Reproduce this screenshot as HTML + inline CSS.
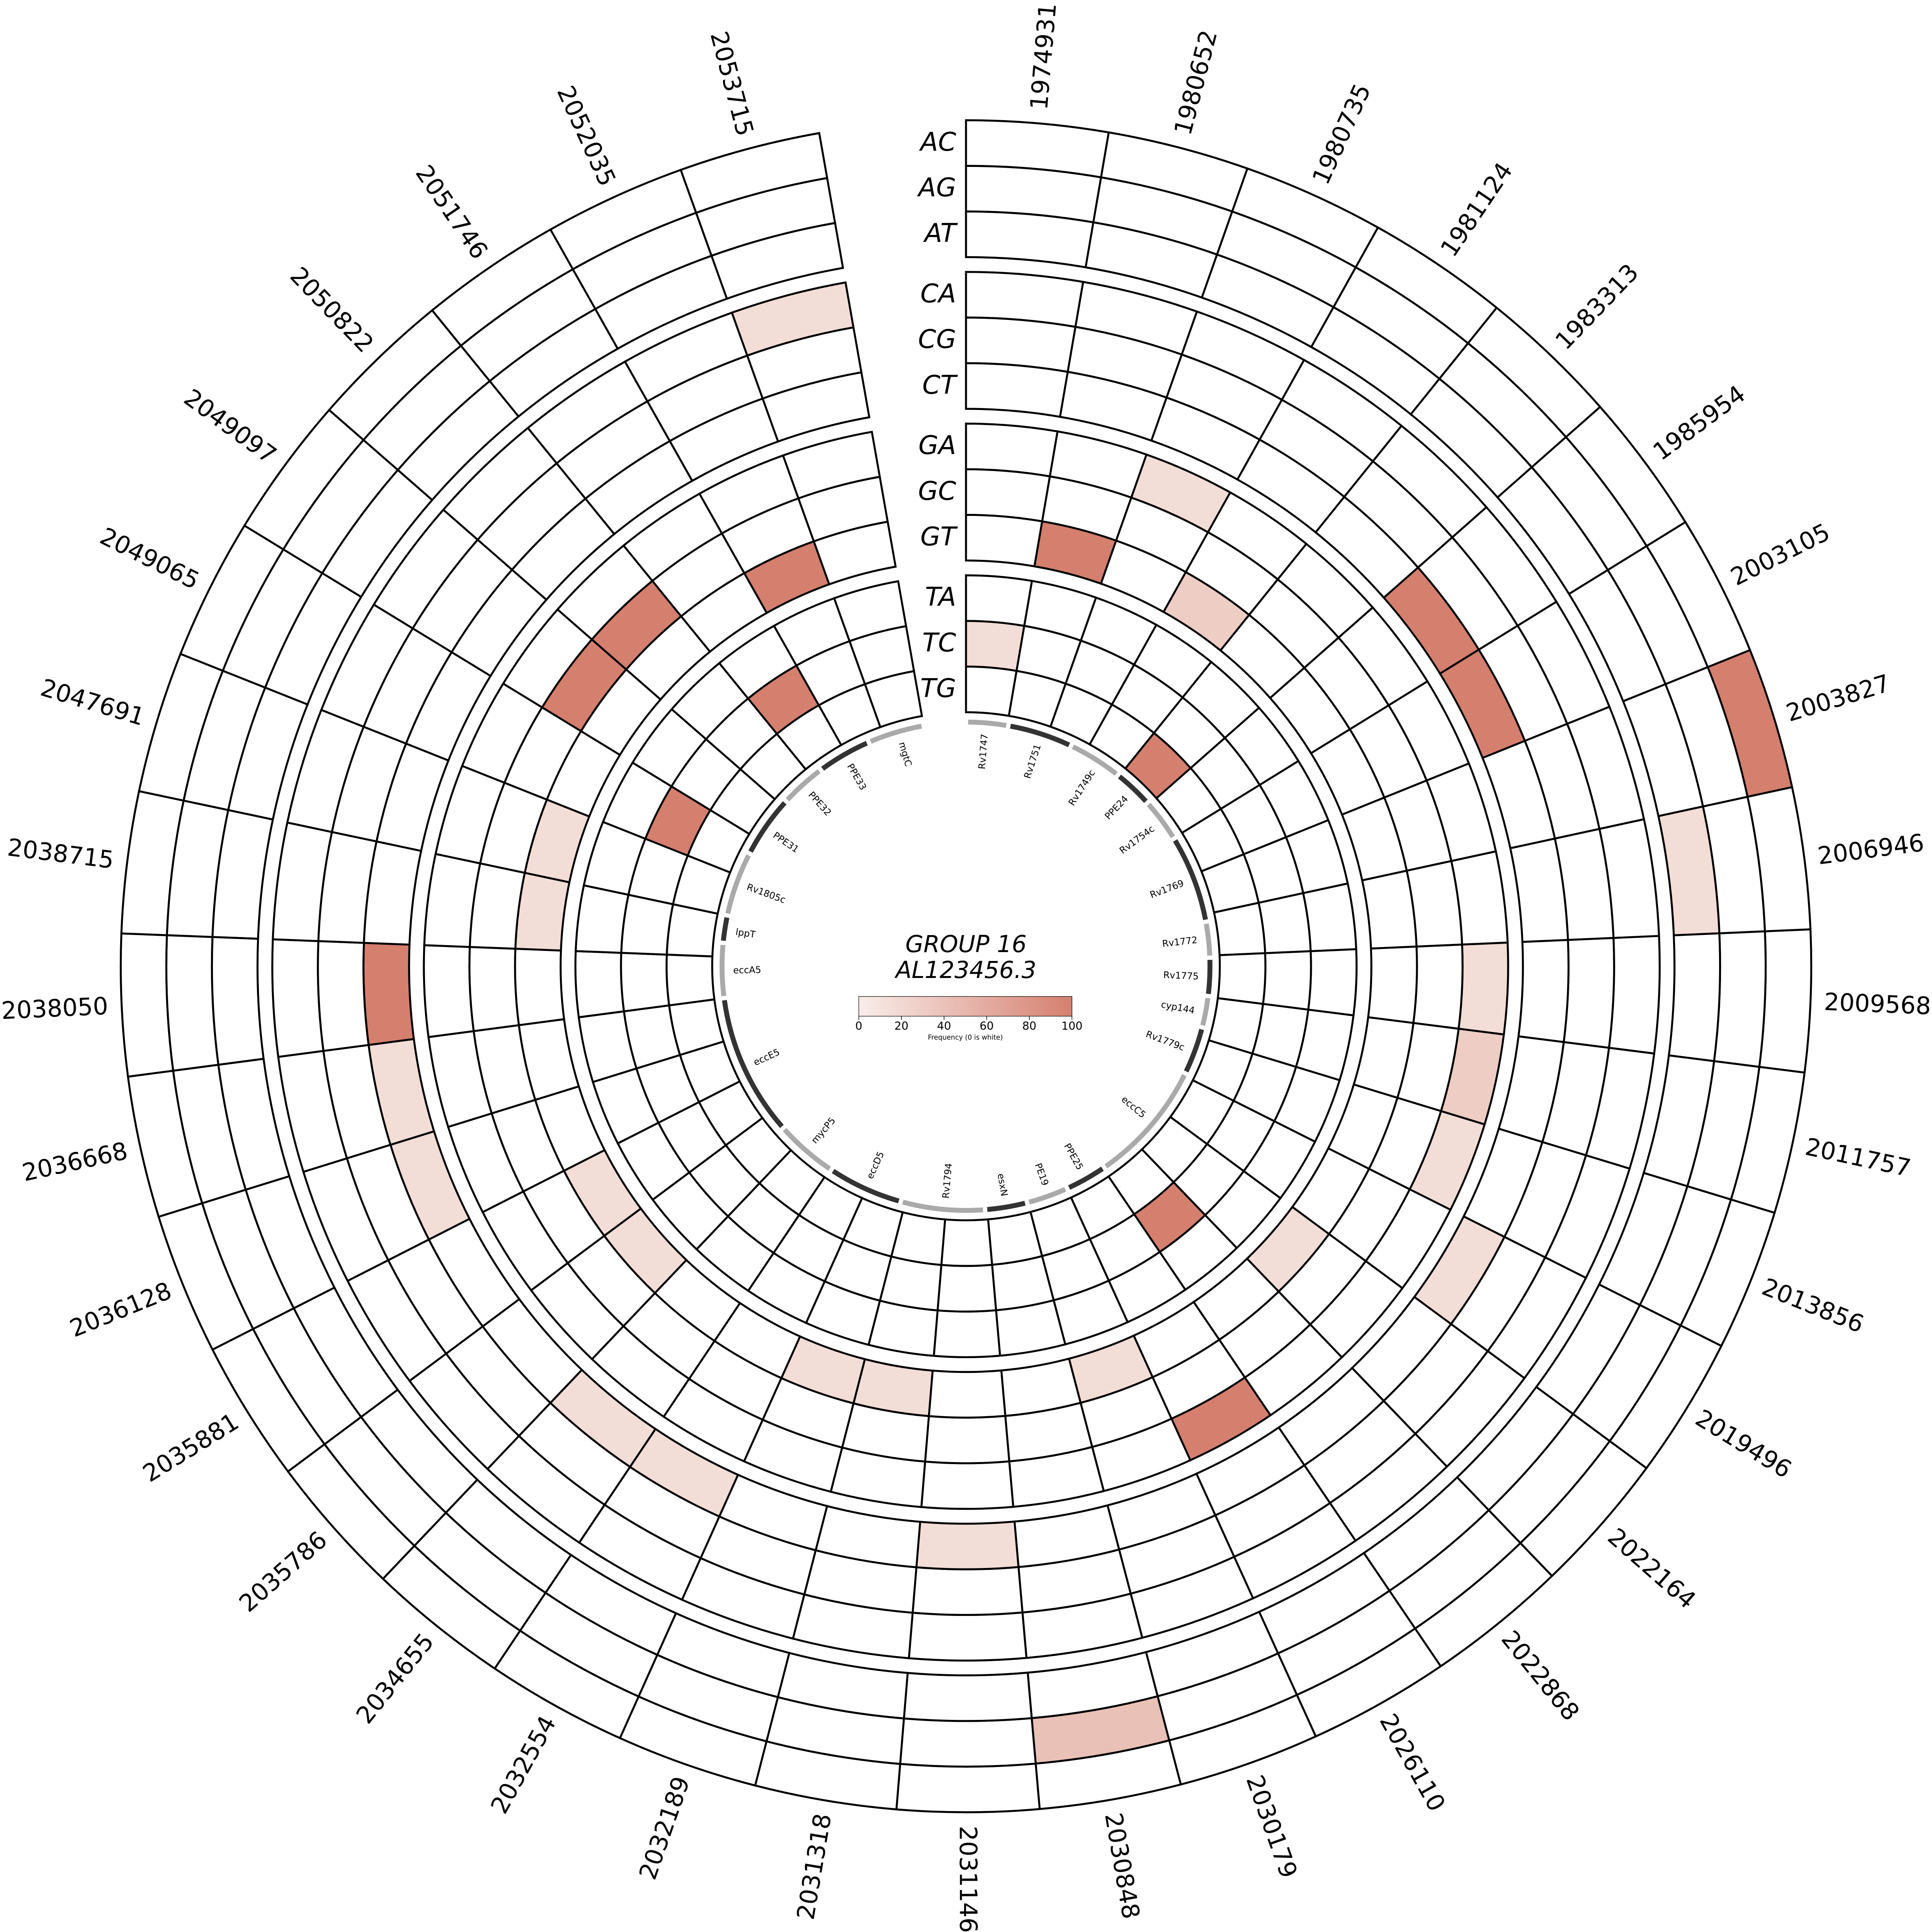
<!DOCTYPE html>
<html><head><meta charset="utf-8"><style>
html,body{margin:0;padding:0;background:#fff;overflow:hidden;width:100%;height:100%;}
svg{display:block;position:fixed;left:0;top:0;width:100vw;height:100vh;}
text{font-family:"DejaVu Sans","Liberation Sans",sans-serif;}
</style></head><body>
<svg id="s" xmlns="http://www.w3.org/2000/svg" viewBox="0 0 1568 1566.6" preserveAspectRatio="none">
<defs><linearGradient id="g" x1="0" x2="1" y1="0" y2="0"><stop offset="0" stop-color="#f9eeeb"/><stop offset="1" stop-color="#d57f6e"/></linearGradient></defs>
<rect width="1568" height="1567" fill="#fff"/>
<g id="cells"></g>
<g id="genes"></g>
<g font-size="19.5" fill="#000" dominant-baseline="central">
<text transform="translate(784,783.5) rotate(4.861) translate(0,-697) rotate(-90)">1974931</text>
<text transform="translate(784,783.5) rotate(14.583) translate(0,-697) rotate(-90)">1980652</text>
<text transform="translate(784,783.5) rotate(24.306) translate(0,-697) rotate(-90)">1980735</text>
<text transform="translate(784,783.5) rotate(34.028) translate(0,-697) rotate(-90)">1981124</text>
<text transform="translate(784,783.5) rotate(43.75) translate(0,-697) rotate(-90)">1983313</text>
<text transform="translate(784,783.5) rotate(53.472) translate(0,-697) rotate(-90)">1985954</text>
<text transform="translate(784,783.5) rotate(63.194) translate(0,-697) rotate(-90)">2003105</text>
<text transform="translate(784,783.5) rotate(72.917) translate(0,-697) rotate(-90)">2003827</text>
<text transform="translate(784,783.5) rotate(82.639) translate(0,-697) rotate(-90)">2006946</text>
<text transform="translate(784,783.5) rotate(92.361) translate(0,-697) rotate(-90)">2009568</text>
<text transform="translate(784,783.5) rotate(102.083) translate(0,-697) rotate(-90)">2011757</text>
<text transform="translate(784,783.5) rotate(111.806) translate(0,-697) rotate(-90)">2013856</text>
<text transform="translate(784,783.5) rotate(121.528) translate(0,-697) rotate(-90)">2019496</text>
<text transform="translate(784,783.5) rotate(131.25) translate(0,-697) rotate(-90)">2022164</text>
<text transform="translate(784,783.5) rotate(140.972) translate(0,-697) rotate(-90)">2022868</text>
<text transform="translate(784,783.5) rotate(150.694) translate(0,-697) rotate(-90)">2026110</text>
<text transform="translate(784,783.5) rotate(160.417) translate(0,-697) rotate(-90)">2030179</text>
<text transform="translate(784,783.5) rotate(170.139) translate(0,-697) rotate(-90)">2030848</text>
<text transform="translate(784,783.5) rotate(179.861) translate(0,-697) rotate(-90)">2031146</text>
<text text-anchor="end" transform="translate(784,783.5) rotate(189.583) translate(0,-697) rotate(90)">2031318</text>
<text text-anchor="end" transform="translate(784,783.5) rotate(199.306) translate(0,-697) rotate(90)">2032189</text>
<text text-anchor="end" transform="translate(784,783.5) rotate(209.028) translate(0,-697) rotate(90)">2032554</text>
<text text-anchor="end" transform="translate(784,783.5) rotate(218.75) translate(0,-697) rotate(90)">2034655</text>
<text text-anchor="end" transform="translate(784,783.5) rotate(228.472) translate(0,-697) rotate(90)">2035786</text>
<text text-anchor="end" transform="translate(784,783.5) rotate(238.194) translate(0,-697) rotate(90)">2035881</text>
<text text-anchor="end" transform="translate(784,783.5) rotate(247.917) translate(0,-697) rotate(90)">2036128</text>
<text text-anchor="end" transform="translate(784,783.5) rotate(257.639) translate(0,-697) rotate(90)">2036668</text>
<text text-anchor="end" transform="translate(784,783.5) rotate(267.361) translate(0,-697) rotate(90)">2038050</text>
<text text-anchor="end" transform="translate(784,783.5) rotate(277.083) translate(0,-697) rotate(90)">2038715</text>
<text text-anchor="end" transform="translate(784,783.5) rotate(286.806) translate(0,-697) rotate(90)">2047691</text>
<text text-anchor="end" transform="translate(784,783.5) rotate(296.528) translate(0,-697) rotate(90)">2049065</text>
<text text-anchor="end" transform="translate(784,783.5) rotate(306.25) translate(0,-697) rotate(90)">2049097</text>
<text text-anchor="end" transform="translate(784,783.5) rotate(315.972) translate(0,-697) rotate(90)">2050822</text>
<text text-anchor="end" transform="translate(784,783.5) rotate(325.694) translate(0,-697) rotate(90)">2051746</text>
<text text-anchor="end" transform="translate(784,783.5) rotate(335.417) translate(0,-697) rotate(90)">2052035</text>
<text text-anchor="end" transform="translate(784,783.5) rotate(345.139) translate(0,-697) rotate(90)">2053715</text>
</g>
<g font-size="21" font-style="italic" text-anchor="end" dominant-baseline="central">
<text x="776" y="115">AC</text><text x="776" y="152">AG</text><text x="776" y="189">AT</text>
<text x="776" y="238">CA</text><text x="776" y="275">CG</text><text x="776" y="312">CT</text>
<text x="776" y="361">GA</text><text x="776" y="398">GC</text><text x="776" y="435">GT</text>
<text x="776" y="484">TA</text><text x="776" y="521">TC</text><text x="776" y="558">TG</text>
</g>
<g font-size="7.5" dominant-baseline="central">
<text text-anchor="end" transform="translate(784,783.5) rotate(4.6) translate(0,-189) rotate(-90)">Rv1747</text>
<text text-anchor="end" transform="translate(784,783.5) rotate(18) translate(0,-189) rotate(-90)">Rv1751</text>
<text text-anchor="end" transform="translate(784,783.5) rotate(33) translate(0,-189) rotate(-90)">Rv1749c</text>
<text text-anchor="end" transform="translate(784,783.5) rotate(43.5) translate(0,-189) rotate(-90)">PPE24</text>
<text text-anchor="end" transform="translate(784,783.5) rotate(53.5) translate(0,-189) rotate(-90)">Rv1754c</text>
<text text-anchor="end" transform="translate(784,783.5) rotate(69) translate(0,-189) rotate(-90)">Rv1769</text>
<text text-anchor="end" transform="translate(784,783.5) rotate(83.5) translate(0,-189) rotate(-90)">Rv1772</text>
<text text-anchor="end" transform="translate(784,783.5) rotate(92.5) translate(0,-189) rotate(-90)">Rv1775</text>
<text text-anchor="end" transform="translate(784,783.5) rotate(101) translate(0,-189) rotate(-90)">cyp144</text>
<text text-anchor="end" transform="translate(784,783.5) rotate(110.5) translate(0,-189) rotate(-90)">Rv1779c</text>
<text text-anchor="end" transform="translate(784,783.5) rotate(130) translate(0,-189) rotate(-90)">eccC5</text>
<text text-anchor="end" transform="translate(784,783.5) rotate(150.5) translate(0,-189) rotate(-90)">PPE25</text>
<text text-anchor="end" transform="translate(784,783.5) rotate(160) translate(0,-189) rotate(-90)">PE19</text>
<text text-anchor="end" transform="translate(784,783.5) rotate(170.5) translate(0,-189) rotate(-90)">esxN</text>
<text transform="translate(784,783.5) rotate(185) translate(0,-189) rotate(90)">Rv1794</text>
<text transform="translate(784,783.5) rotate(204.5) translate(0,-189) rotate(90)">eccD5</text>
<text transform="translate(784,783.5) rotate(221) translate(0,-189) rotate(90)">mycP5</text>
<text transform="translate(784,783.5) rotate(245.5) translate(0,-189) rotate(90)">eccE5</text>
<text transform="translate(784,783.5) rotate(269) translate(0,-189) rotate(90)">eccA5</text>
<text transform="translate(784,783.5) rotate(278.5) translate(0,-189) rotate(90)">lppT</text>
<text transform="translate(784,783.5) rotate(290) translate(0,-189) rotate(90)">Rv1805c</text>
<text transform="translate(784,783.5) rotate(304.5) translate(0,-189) rotate(90)">PPE31</text>
<text transform="translate(784,783.5) rotate(318) translate(0,-189) rotate(90)">PPE32</text>
<text transform="translate(784,783.5) rotate(330) translate(0,-189) rotate(90)">PPE33</text>
<text transform="translate(784,783.5) rotate(344) translate(0,-189) rotate(90)">mgtC</text>
</g>
<text x="784" y="772" font-size="19" font-style="italic" text-anchor="middle">GROUP 16</text>
<text x="784" y="793" font-size="19" font-style="italic" text-anchor="middle">AL123456.3</text>
<rect x="697" y="808" width="173" height="16" fill="url(#g)" stroke="#000" stroke-width="0.4"/>
<g stroke="#000" stroke-width="0.5"><line x1="697" y1="824" x2="697" y2="827"/><line x1="731.6" y1="824" x2="731.6" y2="827"/><line x1="766.2" y1="824" x2="766.2" y2="827"/><line x1="800.8" y1="824" x2="800.8" y2="827"/><line x1="835.4" y1="824" x2="835.4" y2="827"/><line x1="870" y1="824" x2="870" y2="827"/></g>
<g font-size="9" text-anchor="middle"><text x="697" y="835">0</text><text x="731.6" y="835">20</text><text x="766.2" y="835">40</text><text x="800.8" y="835">60</text><text x="835.4" y="835">80</text><text x="870" y="835">100</text></g>
<text x="783.5" y="843" font-size="5.5" text-anchor="middle">Frequency (0 is white)</text>
</svg>
<script>
(function(){
var cx=784,cy=783.5;
function pt(r,a){a*=Math.PI/180;return (cx+r*Math.sin(a)).toFixed(2)+","+(cy-r*Math.cos(a)).toFixed(2);}
function cell(r1,r2,a1,a2){return "M"+pt(r2,a1)+"A"+r2+","+r2+" 0 0 1 "+pt(r2,a2)+"L"+pt(r1,a2)+"A"+r1+","+r1+" 0 0 0 "+pt(r1,a1)+"Z";}
var D="#d57f6e",L="#f3ddd7",M="#eecdc5",M2="#e9c1b6";
var col={"0,10":L,"1,8":D,"2,6":L,"3,8":M,"4,11":D,"5,5":D,"6,5":D,"7,0":D,"8,2":L,"9,6":L,"10,6":M,"11,6":L,"12,5":L,"13,8":L,"14,10":D,"15,6":D,"16,8":L,"17,1":M2,"18,5":L,"19,8":L,"20,8":L,"21,5":L,"22,5":L,"23,8":L,"24,8":L,"25,5":L,"26,5":L,"27,5":D,"28,8":L,"29,8":L,"30,10":D,"31,7":D,"32,7":D,"33,10":D,"34,8":D,"35,3":L};
var g=document.getElementById("cells"),w=350/36,h="";
for(var k=0;k<12;k++){var gi=Math.floor(k/3),ro=686-123*gi-37*(k%3),ri=ro-37;
 for(var i=0;i<36;i++){var c=col[i+","+k]||"#fff";
  h+='<path d="'+cell(ri,ro,i*w,(i+1)*w)+'" fill="'+c+'" stroke="#000" stroke-width="1.6"/>';}}
g.innerHTML=h;
var genes=[[0.5,9.5,0],[10.5,25,1],[26,38,0],[39,47.5,1],[48.5,58,0],[59,79,1],[80,87.5,0],[88.5,96.5,1],[97.5,104,0],[105,115.5,1],[116.5,145,0],[146,155,1],[156,165,0],[166,175,1],[176,195,0],[196,213,1],[214,228,0],[229,262,1],[263,275,0],[276,281.5,1],[282.5,297,0],[298,312,1],[313,323,0],[324,336,1],[337,349.5,0]];
var s="";genes.forEach(function(e){s+='<path d="M'+pt(198,e[0])+'A198,198 0 0 1 '+pt(198,e[1])+'" fill="none" stroke="'+(e[2]?"#333":"#aaa")+'" stroke-width="4"/>';});
document.getElementById("genes").innerHTML=s;
})();
</script>
</body></html>
